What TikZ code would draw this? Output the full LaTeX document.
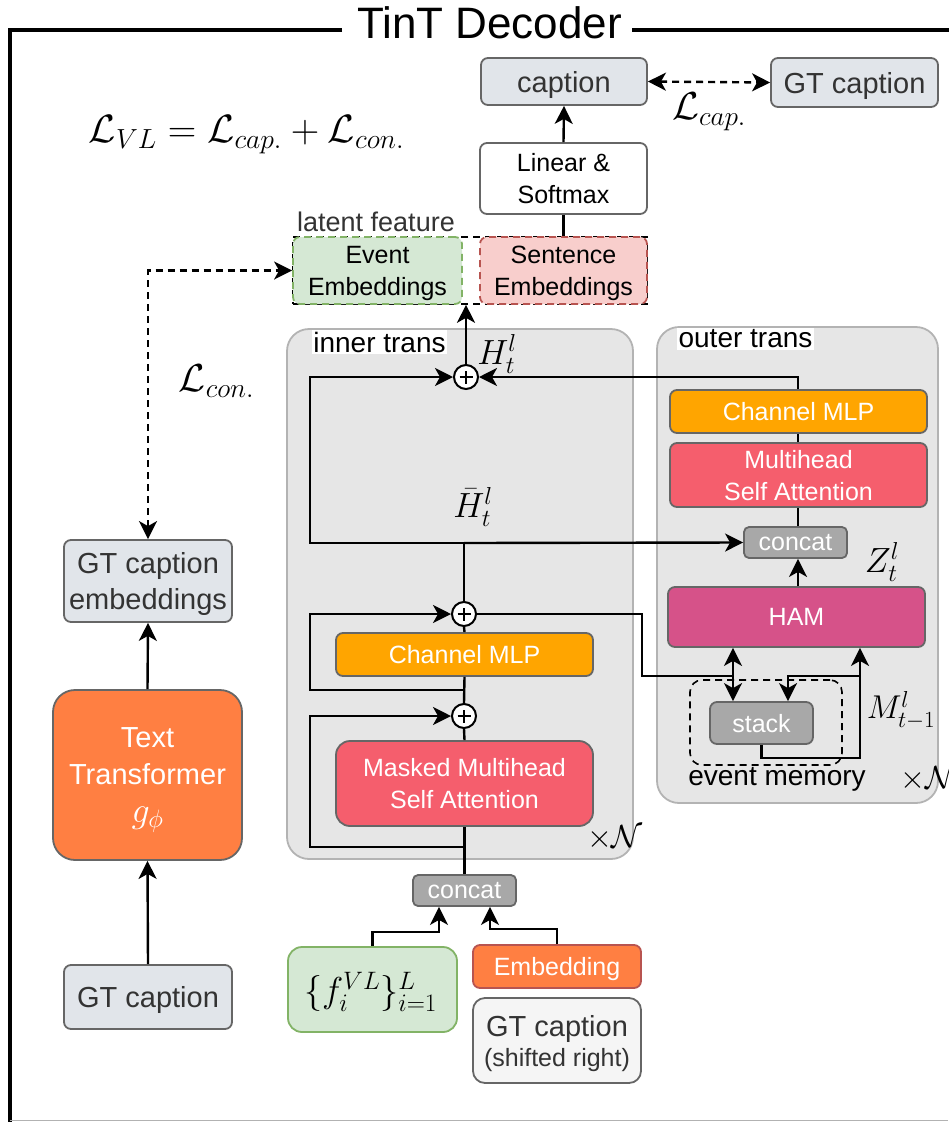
\RequirePackage{fix-cm}
\documentclass[tikz,border=0pt]{standalone}
\usepackage[no-math]{fontspec}
\setmainfont{Liberation Sans}
\usetikzlibrary{arrows.meta}

\definecolor{edgegrey}{HTML}{666666}
\definecolor{textgrey}{HTML}{333333}
\definecolor{capfill}{HTML}{E1E5EA}
\definecolor{greenfill}{HTML}{D5E8D4}
\definecolor{greenedge}{HTML}{82B366}
\definecolor{redfill}{HTML}{F8CECC}
\definecolor{rededge}{HTML}{B85450}
\definecolor{panelfill}{HTML}{E6E6E6}
\definecolor{paneledge}{HTML}{B3B3B3}
\definecolor{mlpfill}{HTML}{FFA500}
\definecolor{attfill}{HTML}{F55E6D}
\definecolor{hamfill}{HTML}{D65289}
\definecolor{txfill}{HTML}{FF7F42}
\definecolor{catfill}{HTML}{A8A8A8}
\definecolor{gtfill}{HTML}{F5F5F5}

\tikzset{
  conn/.style={line width=2.4pt, draw=black},
  arr/.style={conn, -{Stealth[length=18pt,width=18pt,inset=5pt]}},
  darr/.style={conn, {Stealth[length=18pt,width=18pt,inset=5pt]}-{Stealth[length=18pt,width=18pt,inset=5pt]}},
  dashline/.style={dash pattern=on 7pt off 5pt},
  box/.style={draw=edgegrey, line width=1.8pt, rounded corners=7pt, align=center,
    inner sep=0pt, text depth=0pt, font=\fontsize{25}{32}\selectfont},
  capbox/.style={box, fill=capfill, text=textgrey, font=\fontsize{29}{36}\selectfont},
  panel/.style={draw=paneledge, fill=panelfill, line width=1.8pt, rounded corners=22pt},
  tag/.style={fill=white, inner sep=1.5pt, font=\fontsize{28}{28}\selectfont},
  mathlbl/.style={inner sep=0pt, font=\fontsize{35}{35}\selectfont},
  plus/.style={circle, draw=black, fill=white, line width=2pt, minimum size=24pt, inner sep=0pt,
    path picture={
      \draw[line width=1.6pt] ([xshift=-6.5pt]path picture bounding box.center) -- ([xshift=6.5pt]path picture bounding box.center);
      \draw[line width=1.6pt] ([yshift=-6.5pt]path picture bounding box.center) -- ([yshift=6.5pt]path picture bounding box.center);
    }},
}

\begin{document}
\begin{tikzpicture}[x=1pt,y=-1pt]
\useasboundingbox (0,0) rectangle (948,1122);

% outer frame with title
\draw[line width=4pt] (342,30) -- (10,30) -- (10,1124);
\draw[line width=4pt] (632,30) -- (952,30);
\draw[line width=1pt, black!30] (10,1120) -- (948,1120);
\node[anchor=base, inner sep=0pt, font=\fontsize{44}{44}\selectfont] (title) at (489.5,38) {TinT Decoder};

% panels
\node[panel, minimum width=346pt, minimum height=530pt] (innerp) at (460,594) {};
\node[panel, minimum width=281pt, minimum height=476pt] (outerp) at (797.5,565) {};
\node[tag] (innerlbl) at (379.5,342) {inner trans};
\node[tag] (outerlbl) at (745.5,339) {outer trans};

% top of the decoder
\node[capbox, minimum width=166pt, minimum height=47pt] (cap) at (564,81.5) {caption};
\node[capbox, minimum width=167pt, minimum height=49pt] (gtcap) at (854.5,82.5) {GT caption};
\node[box, fill=white, minimum width=167pt, minimum height=71pt] (lin) at (563.5,178.5) {Linear \&\\Softmax};

% latent feature group
\node[draw=black, line width=1.6pt, dashline, minimum width=354pt, minimum height=67pt, inner sep=0pt] (lat) at (470,270.5) {};
\node[box, fill=greenfill, draw=greenedge, dashline, minimum width=169pt, minimum height=67pt] (ev) at (377.5,270.5) {Event\\Embeddings};
\node[box, fill=redfill, draw=rededge, dashline, minimum width=167pt, minimum height=67pt] (se) at (563.5,270.5) {Sentence\\Embeddings};
\node[inner sep=0pt, text=textgrey, font=\fontsize{27}{27}\selectfont] (latlbl) at (376,222) {latent feature};

% loss formulas
\node[inner sep=0pt, font=\fontsize{39.5}{40}\selectfont] (eq) at (246.5,134.5) {$\mathcal{L}_{VL} = \mathcal{L}_{cap.} + \mathcal{L}_{con.}$};
\node[mathlbl, font=\fontsize{39}{39}\selectfont] (lcap) at (709,111.5) {$\mathcal{L}_{cap.}$};
\node[mathlbl, font=\fontsize{39}{39}\selectfont] (lcon) at (216.5,381) {$\mathcal{L}_{con.}$};

% inner transformer
\node[plus] (p1) at (466,377) {};
\node[plus] (p2) at (464,614) {};
\node[plus] (p3) at (464,716) {};
\node[mathlbl] (hlbl) at (497,354) {$H_t^l$};
\node[mathlbl] (hbarlbl) at (473,507) {$\bar{H}_t^l$};
\node[box, fill=mlpfill, text=white, minimum width=257pt, minimum height=43pt] (mlpin) at (464.5,654.5) {Channel MLP};
\node[box, fill=attfill, text=white, rounded corners=14pt, minimum width=257pt, minimum height=85pt] (mmsa) at (464.5,783.5) {Masked Multihead\\Self Attention};
\node[mathlbl, font=\fontsize{32}{32}\selectfont] (nin) at (615,838) {$\times\mathcal{N}$};
\node[box, fill=catfill, text=white, rounded corners=5pt, minimum width=103pt, minimum height=31pt] (catin) at (464.5,890.5) {concat};

% decoder inputs
\node[box, fill=greenfill, draw=greenedge, rounded corners=14pt, minimum width=169pt, minimum height=85pt] (fbox) at (372.5,989.5) {};
\node[mathlbl, font=\fontsize{36}{36}\selectfont] (ftext) at (370.5,992) {$\{f_i^{VL}\}_{i=1}^{L}$};
\node[box, fill=txfill, draw=rededge, text=white, minimum width=168pt, minimum height=43pt] (emb) at (557,966.5) {Embedding};
\node[box, fill=gtfill, text=textgrey, rounded corners=12pt, minimum width=168pt, minimum height=85pt, font=\fontsize{29}{30}\selectfont] (gtshift) at (557,1040.5) {GT caption\\{\fontsize{25}{30}\selectfont (shifted right)}};

% outer transformer
\node[box, fill=mlpfill, text=white, minimum width=257pt, minimum height=43pt] (mlpout) at (798.5,411.5) {Channel MLP};
\node[box, fill=attfill, text=white, minimum width=257pt, minimum height=64pt] (mhsa) at (798.5,475) {Multihead\\Self Attention};
\node[box, fill=catfill, text=white, rounded corners=5pt, minimum width=103pt, minimum height=31pt] (catout) at (795.5,542.5) {concat};
\node[mathlbl] (zlbl) at (882,562) {$Z_t^l$};
\node[box, fill=hamfill, text=white, minimum width=257pt, minimum height=60pt] (ham) at (796.5,617) {HAM};
\node[draw=black, line width=1.6pt, dashline, rounded corners=12pt, minimum width=152pt, minimum height=85pt, inner sep=0pt] (evmem) at (766,722.5) {};
\node[box, fill=catfill, text=white, minimum width=103pt, minimum height=42pt] (stack) at (761.5,723) {stack};
\node[anchor=base, inner sep=0pt, font=\fontsize{28}{28}\selectfont] (evlbl) at (777,785) {event memory};
\node[mathlbl, font=\fontsize{33}{33}\selectfont] (mlbl) at (901,710) {$M_{t-1}^l$};
\node[mathlbl, font=\fontsize{32}{32}\selectfont, anchor=west] (nout) at (900,779) {$\times\mathcal{N}$};

% text branch
\node[capbox, minimum width=168pt, minimum height=82pt] (gtemb) at (148,581) {GT caption\\embeddings};
\node[box, fill=txfill, text=white, rounded corners=22pt, minimum width=189pt, minimum height=170pt, font=\fontsize{29}{37}\selectfont] (tx) at (147.5,775) {Text\\Transformer\\[1pt]{\fontsize{36}{36}\selectfont$g_\phi$}};
\node[capbox, minimum width=168pt, minimum height=64pt] (gtin) at (148,997) {GT caption};

% junctions on the residual paths
\coordinate (j1) at (464,543);
\coordinate (j2) at (464,690);
\coordinate (j3) at (464,847);
\coordinate (memin) at (860,676);

% connectors: caption head
\draw[arr] (lin.north) -- (cap.south);
\draw[conn] (lin.south) -- (lin.south |- lat.north);
\draw[darr, dashline] (cap.east) -- (gtcap.west);
\draw[arr] (p1.north) -- (p1.north |- lat.south);
\draw[darr, dashline] (gtemb.north) |- (ev.west);

% connectors: inner transformer
\draw[conn] (p2.north) -- (j1);
\draw[arr] (j1) -- (310,543) |- (p1.west);
\draw[arr] (j1) -- (catout.west);
\draw[conn] (mlpin.north) -- (p2.south);
\draw[conn] (p3.north) -- (mlpin.south);
\draw[arr] (j2) -- (310,690) |- (p2.west);
\draw[conn] (mmsa.north) -- (p3.south);
\draw[conn] (catin.north) -- (mmsa.south);
\draw[arr] (j3) -- (310,847) |- (p3.west);
\draw[arr] (fbox.north) -- ++(0,-14) -| ([xshift=-25.5pt]catin.south);
\draw[arr] (emb.north) -- ++(0,-15) -| ([xshift=25.5pt]catin.south);

% connectors: outer transformer
\draw[arr] ([xshift=-0.5pt]mlpout.north) |- (p1.east);
\draw[conn] ([xshift=-0.5pt]mhsa.north) -- ([xshift=-0.5pt]mlpout.south);
\draw[conn] ([xshift=2.5pt]catout.north) -- ([xshift=2.5pt]catout.north |- mhsa.south);
\draw[arr] ([xshift=1.5pt]ham.north) -- ([xshift=1.5pt]ham.north |- catout.south);
\draw[conn] (p2.east) -| (642,676) -- (733,676);
\draw[darr] ([xshift=-63.5pt]ham.south) -- ([xshift=-63.5pt]ham.south |- stack.north);
\draw[arr] (stack.south) -- ++(0,13) -| ([xshift=63.5pt]ham.south);
\draw[arr] (memin) -| ([xshift=26.5pt]stack.north);

% connectors: text branch
\draw[arr] (tx.north) -- (gtemb.south);
\draw[arr] (gtin.north) -- (tx.south);
\end{tikzpicture}
\end{document}
